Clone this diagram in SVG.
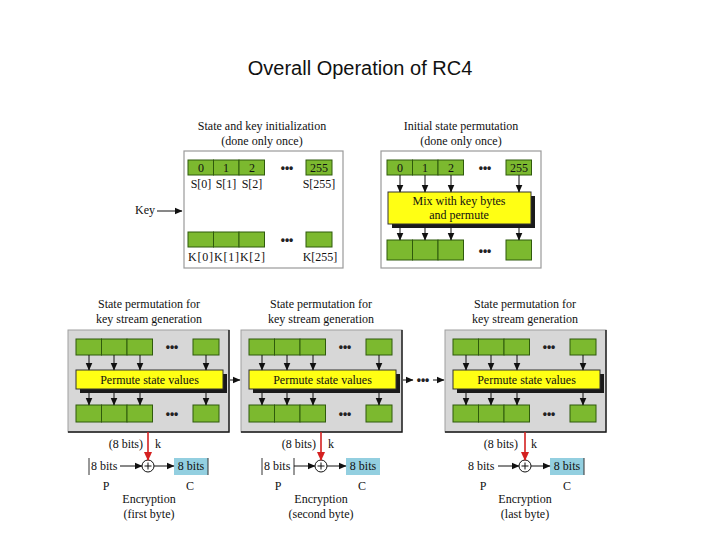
<svg xmlns="http://www.w3.org/2000/svg" width="720" height="540" viewBox="0 0 720 540">
<style>
.t{font-family:"Liberation Serif","Times New Roman",serif;font-size:12px;fill:#111;}
.tc{text-anchor:middle;}
.ttl{font-family:"Liberation Sans",Arial,sans-serif;font-size:20px;fill:#111;text-anchor:middle;}
.cell{fill:#7cb92f;stroke:#2f5a0c;stroke-width:1;}
.yel{fill:#ffff14;stroke:#333;stroke-width:1;}
.shd{fill:#1a1a1a;}
.wp{fill:#fff;stroke:#9a9a9a;stroke-width:1.2;}
.gp{fill:#d7d7d7;stroke:#a0a0a0;stroke-width:1;}
.edge{stroke:#1a1a1a;stroke-width:1.4;fill:none;}
.ar{stroke:#111;stroke-width:1;fill:none;marker-end:url(#ah);}
.rar{stroke:#d42020;stroke-width:1.6;fill:none;marker-end:url(#rah);}
.dots{font-family:"Liberation Sans",Arial,sans-serif;font-size:12px;font-weight:bold;fill:#222;text-anchor:middle;}
.blue{fill:#93cfe0;stroke:none;}
.bar{stroke:#333;stroke-width:1;}
</style>
<defs>
<marker id="ah" markerWidth="8" markerHeight="8" refX="7.5" refY="4" orient="auto" markerUnits="userSpaceOnUse"><path d="M0,0.5 L8,4 L0,7.5 z" fill="#111"/></marker>
<marker id="rah" markerWidth="9" markerHeight="9" refX="8" refY="4.5" orient="auto" markerUnits="userSpaceOnUse"><path d="M0,0.5 L9,4.5 L0,8.5 z" fill="#d42020"/></marker>
<g id="kpanel">
<rect class="gp" x="0" y="0" width="161" height="102"/>
<path class="edge" d="M161,0 V102 H0"/>
<rect class="cell" x="8" y="9" width="25.5" height="16"/>
<rect class="cell" x="33.5" y="9" width="25.5" height="16"/>
<rect class="cell" x="59" y="9" width="25.5" height="16"/>
<rect class="cell" x="125" y="9" width="26" height="16"/>
<text class="dots" x="104" y="21">•••</text>
<rect class="shd" x="12" y="44" width="147" height="19"/>
<rect class="yel" x="8" y="40" width="147" height="19"/>
<text class="t tc" x="81.5" y="53.5">Permute state values</text>
<rect class="cell" x="8" y="75" width="25.5" height="17"/>
<rect class="cell" x="33.5" y="75" width="25.5" height="17"/>
<rect class="cell" x="59" y="75" width="25.5" height="17"/>
<rect class="cell" x="125" y="75" width="26" height="17"/>
<text class="dots" x="104" y="88">•••</text>
<path class="ar" d="M21,25 V40"/>
<path class="ar" d="M46,25 V40"/>
<path class="ar" d="M72,25 V40"/>
<path class="ar" d="M138,25 V40"/>
<path class="ar" d="M21,63 V75"/>
<path class="ar" d="M46,63 V75"/>
<path class="ar" d="M72,63 V75"/>
<path class="ar" d="M138,63 V75"/>
</g>
</defs>

<text class="ttl" x="360" y="75">Overall Operation of RC4</text>

<g id="init">
<text class="t tc" x="262" y="130">State and key initialization</text>
<text class="t tc" x="262" y="145">(done only once)</text>
<rect class="wp" x="184" y="151" width="159" height="117"/>
<rect class="cell" x="188" y="160" width="25.5" height="15"/>
<rect class="cell" x="213.5" y="160" width="25.5" height="15"/>
<rect class="cell" x="239" y="160" width="25.5" height="15"/>
<rect class="cell" x="306" y="160" width="26" height="15"/>
<text class="t tc" x="201" y="172">0</text>
<text class="t tc" x="226" y="172">1</text>
<text class="t tc" x="252" y="172">2</text>
<text class="t tc" x="319" y="172">255</text>
<text class="dots" x="287" y="172">•••</text>
<text class="t tc" x="201" y="188">S[0]</text>
<text class="t tc" x="226" y="188">S[1]</text>
<text class="t tc" x="252" y="188">S[2]</text>
<text class="t tc" x="319" y="188">S[255]</text>
<rect class="cell" x="188" y="232" width="25.5" height="15"/>
<rect class="cell" x="213.5" y="232" width="25.5" height="15"/>
<rect class="cell" x="239" y="232" width="25.5" height="15"/>
<rect class="cell" x="306" y="232" width="26" height="15"/>
<text class="dots" x="287" y="244">•••</text>
<text class="t" x="188" y="261" textLength="77">K[0]K[1]K[2]</text>
<text class="t tc" x="320" y="261">K[255]</text>
<text class="t" x="135" y="214">Key</text>
</g>

<g id="perm">
<text class="t tc" x="461" y="130">Initial state permutation</text>
<text class="t tc" x="461" y="145">(done only once)</text>
<rect class="wp" x="381" y="151" width="160" height="117"/>
<rect class="cell" x="387" y="160" width="25.5" height="15"/>
<rect class="cell" x="412.5" y="160" width="25.5" height="15"/>
<rect class="cell" x="438" y="160" width="25.5" height="15"/>
<rect class="cell" x="506" y="160" width="25.5" height="15"/>
<text class="t tc" x="400" y="172">0</text>
<text class="t tc" x="425" y="172">1</text>
<text class="t tc" x="451" y="172">2</text>
<text class="t tc" x="519" y="172">255</text>
<text class="dots" x="485" y="172">•••</text>
<rect class="shd" x="392" y="196" width="143" height="32"/>
<rect class="yel" x="388" y="192" width="143" height="32"/>
<text class="t tc" x="459" y="205">Mix with key bytes</text>
<text class="t tc" x="459" y="219">and permute</text>
<rect class="cell" x="387" y="240" width="25.5" height="20"/>
<rect class="cell" x="412.5" y="240" width="25.5" height="20"/>
<rect class="cell" x="438" y="240" width="25.5" height="20"/>
<rect class="cell" x="506" y="240" width="25.5" height="20"/>
<text class="dots" x="485" y="255">•••</text>
</g>

<g id="ks1">
<text class="t tc" x="149" y="308">State permutation for</text>
<text class="t tc" x="149" y="323">key stream generation</text>
<use href="#kpanel" x="68" y="330"/>
</g>
<g id="ks2">
<text class="t tc" x="321" y="308">State permutation for</text>
<text class="t tc" x="321" y="323">key stream generation</text>
<use href="#kpanel" x="241" y="330"/>
</g>
<g id="ks3">
<text class="t tc" x="525" y="308">State permutation for</text>
<text class="t tc" x="525" y="323">key stream generation</text>
<use href="#kpanel" x="445" y="330"/>
</g>

<g id="enc1">
<text class="t" x="143" y="448" text-anchor="end">(8 bits)</text>
<text class="t" x="155" y="448">k</text>
<circle cx="148" cy="466" r="6" fill="#fff" stroke="#111" stroke-width="1"/>
<path d="M144.5,466 H151.5 M148,462.5 V469.5" stroke="#111" stroke-width="1"/>
<line class="bar" x1="89" y1="458" x2="89" y2="475"/>
<text class="t" x="91" y="470">8 bits</text>
<rect class="blue" x="174" y="458" width="34" height="17"/>
<line class="bar" x1="208" y1="458" x2="208" y2="475"/>
<text class="t tc" x="191" y="470">8 bits</text>
<text class="t tc" x="106" y="490">P</text>
<text class="t tc" x="190" y="490">C</text>
<text class="t tc" x="149" y="503">Encryption</text>
<text class="t tc" x="149" y="518">(first byte)</text>
</g>
<g id="enc2">
<text class="t" x="316" y="448" text-anchor="end">(8 bits)</text>
<text class="t" x="328" y="448">k</text>
<circle cx="321" cy="466" r="6" fill="#fff" stroke="#111" stroke-width="1"/>
<path d="M317.5,466 H324.5 M321,462.5 V469.5" stroke="#111" stroke-width="1"/>
<line class="bar" x1="262" y1="458" x2="262" y2="475"/>
<line class="bar" x1="294" y1="458" x2="294" y2="475"/>
<text class="t" x="264" y="470">8 bits</text>
<rect class="blue" x="346" y="458" width="34" height="17"/>
<text class="t tc" x="363" y="470">8 bits</text>
<text class="t tc" x="278" y="490">P</text>
<text class="t tc" x="362" y="490">C</text>
<text class="t tc" x="321" y="503">Encryption</text>
<text class="t tc" x="321" y="518">(second byte)</text>
</g>
<g id="enc3">
<text class="t" x="518" y="448" text-anchor="end">(8 bits)</text>
<text class="t" x="531" y="448">k</text>
<circle cx="525" cy="466" r="6" fill="#fff" stroke="#111" stroke-width="1"/>
<path d="M521.5,466 H528.5 M525,462.5 V469.5" stroke="#111" stroke-width="1"/>
<text class="t" x="468" y="470">8 bits</text>
<rect class="blue" x="550" y="458" width="34" height="17"/>
<line class="bar" x1="584" y1="458" x2="584" y2="475"/>
<text class="t tc" x="567" y="470">8 bits</text>
<text class="t tc" x="483" y="490">P</text>
<text class="t tc" x="567" y="490">C</text>
<text class="t tc" x="525" y="503">Encryption</text>
<text class="t tc" x="525" y="518">(last byte)</text>
</g>

<g id="connectors">
<path class="ar" d="M157,211 H182"/>
<path class="ar" d="M400,175 V192"/>
<path class="ar" d="M425,175 V192"/>
<path class="ar" d="M451,175 V192"/>
<path class="ar" d="M519,175 V192"/>
<path class="ar" d="M400,228 V240"/>
<path class="ar" d="M425,228 V240"/>
<path class="ar" d="M451,228 V240"/>
<path class="ar" d="M519,228 V240"/>
<path class="ar" d="M230,380 H240"/>
<path class="ar" d="M403,380 H413"/>
<text class="dots" x="423" y="384">•••</text>
<path class="ar" d="M433,380 H444"/>
<path class="rar" d="M148,432 V460"/>
<path class="rar" d="M321,432 V460"/>
<path class="rar" d="M525,432 V460"/>
<path class="ar" d="M120,466 H142"/>
<path class="ar" d="M154,466 H174"/>
<path class="ar" d="M294,466 H315"/>
<path class="ar" d="M327,466 H346"/>
<path class="ar" d="M498,466 H519"/>
<path class="ar" d="M531,466 H550"/>
</g>
</svg>
